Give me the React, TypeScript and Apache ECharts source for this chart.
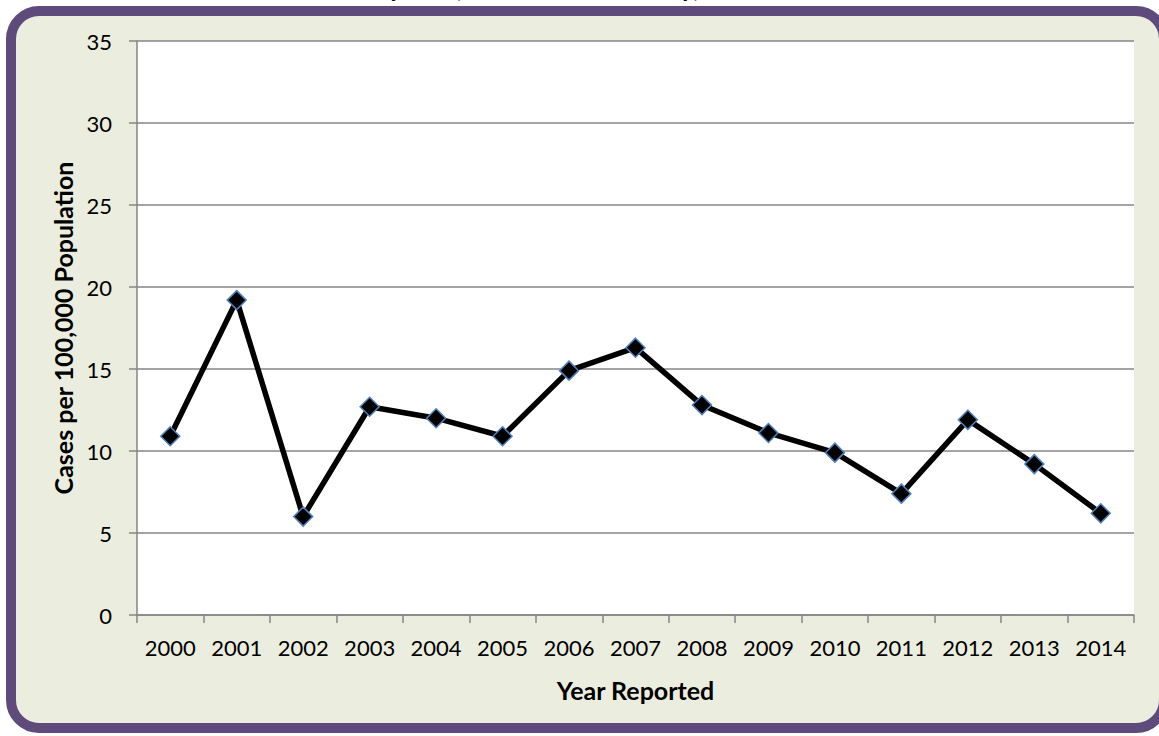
import React, { useEffect, useRef } from "react";
import * as echarts from "echarts";

const years = ["2000", "2001", "2002", "2003", "2004", "2005", "2006", "2007", "2008", "2009", "2010", "2011", "2012", "2013", "2014"];
const rates = [10.9, 19.2, 6.0, 12.7, 12.0, 10.9, 14.9, 16.3, 12.8, 11.1, 9.9, 7.4, 11.9, 9.2, 6.2];
const titleText = "Incidence Rate by Year, Multnomah County, 2000-2014";
const xAxisName = "Year Reported";
const yAxisName = "Cases per 100,000 Population";

const FONT = "Lato, 'Noto Sans', sans-serif";

export default function App() {
  const ref = useRef<HTMLDivElement>(null);
  useEffect(() => {
    if (!ref.current) return;
    const chart = echarts.init(ref.current, null, { renderer: "svg" });
    chart.setOption({
      animation: false,
      backgroundColor: "#ffffff",
      graphic: [
        {
          type: "rect",
          z: -10,
          shape: { x: 11, y: 11, width: 1153, height: 717, r: 28 },
          style: { fill: "#EBEEDF", stroke: "#5F4B7B", lineWidth: 10 },
        },
        {
          type: "text",
          z: -20,
          x: 517,
          y: 0,
          style: {
            text: titleText,
            font: "bold 26px " + FONT,
            fill: "#000",
            textAlign: "center",
            textVerticalAlign: "bottom",
          },
        },
      ],
      grid: {
        left: 137,
        right: 25,
        top: 41,
        bottom: 121,
        show: true,
        backgroundColor: "#ffffff",
        borderWidth: 0,
      },
      xAxis: {
        type: "category",
        data: years,
        boundaryGap: true,
        name: xAxisName,
        nameLocation: "middle",
        nameGap: 62,
        nameTextStyle: { fontFamily: FONT, fontSize: 25, fontWeight: "bold", color: "#000" },
        axisLine: { lineStyle: { color: "#868686", width: 1.5 } },
        axisTick: { show: true, length: 8, alignWithLabel: false, interval: 0, lineStyle: { color: "#868686", width: 1.5 } },
        axisLabel: { fontFamily: FONT, fontSize: 22, color: "#000", margin: 21, interval: 0, hideOverlap: false },
        splitLine: { show: false },
      },
      yAxis: {
        type: "value",
        min: 0,
        max: 35,
        interval: 5,
        name: yAxisName,
        nameLocation: "middle",
        nameGap: 60,
        nameRotate: 90,
        nameTextStyle: { fontFamily: FONT, fontSize: 25, fontWeight: "bold", color: "#000" },
        axisLine: { show: true, lineStyle: { color: "#868686", width: 1.5 } },
        axisTick: { show: true, length: 8, lineStyle: { color: "#868686", width: 1.5 } },
        axisLabel: { fontFamily: FONT, fontSize: 22, color: "#000", margin: 25 },
        splitLine: { show: true, lineStyle: { color: "#868686", width: 1.5 } },
      },
      series: [
        {
          type: "line",
          data: rates,
          symbol: "diamond",
          symbolSize: 19,
          lineStyle: { color: "#000", width: 5.5 },
          itemStyle: { color: "#000", borderColor: "#4F81BD", borderWidth: 1.5 },
        },
      ],
    });
    return () => chart.dispose();
  }, []);
  return (
    <div
      ref={ref}
      style={{ position: "fixed", left: 0, top: 0, width: 1159, height: 736 }}
    />
  );
}
